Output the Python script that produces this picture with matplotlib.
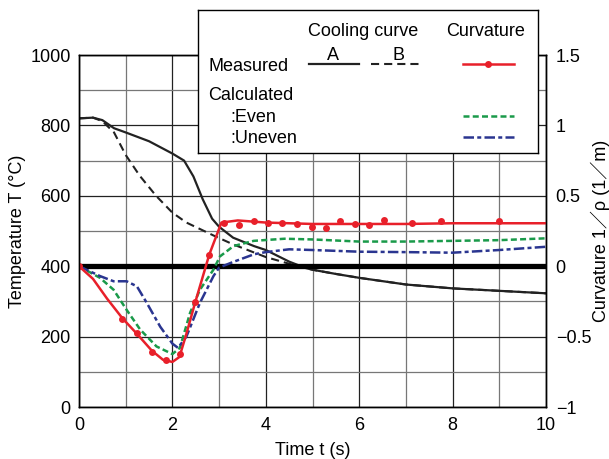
import numpy as np
import matplotlib.pyplot as plt
from matplotlib.lines import Line2D

plt.rcParams['font.family'] = ['Liberation Sans', 'Noto Sans CJK JP', 'DejaVu Sans']
plt.rcParams['font.size'] = 13

# cooling curves (temperature, C)
tA = [0, 0.3, 0.5, 0.75, 1.0, 1.5, 2.0, 2.25, 2.45, 2.65, 2.85, 3.0, 3.3, 3.75, 4.0, 4.5, 4.85, 5.0, 5.5, 6.0, 7.0, 8.0, 9.0, 10.0]
TA = [820, 822, 815, 792, 780, 755, 720, 700, 655, 590, 535, 512, 481, 457, 446, 413, 395, 390, 378, 367, 348, 337, 330, 323]
tB = [0, 0.3, 0.5, 0.75, 1.0, 1.3, 1.65, 2.0, 2.3, 2.9, 3.3, 4.0, 4.5, 4.85, 5.0, 5.5, 6.0, 7.0, 8.0, 9.0, 10.0]
TB = [820, 822, 812, 780, 716, 657, 600, 552, 524, 486, 462, 426, 407, 395, 390, 378, 367, 348, 337, 330, 323]

# measured curvature (1/m)
t_meas = [0, 0.93, 1.24, 1.56, 1.86, 2.17, 2.49, 2.79, 3.11, 3.42, 3.74, 4.04, 4.35, 4.66, 4.98, 5.29, 5.59, 5.90, 6.20, 6.53, 7.14, 7.75, 9.0]
c_meas = [0, -0.376, -0.476, -0.61, -0.667, -0.624, -0.255, 0.083, 0.305, 0.293, 0.32, 0.305, 0.31, 0.30, 0.28, 0.271, 0.323, 0.30, 0.29, 0.326, 0.309, 0.319, 0.319]
t_fit = [0, 0.3, 0.6, 0.93, 1.24, 1.56, 1.8, 2.0, 2.15, 2.3, 2.49, 2.79, 3.05, 3.4, 4.0, 5.0, 6.0, 7.0, 8.0, 9.0, 10.0]
c_fit = [0, -0.09, -0.23, -0.37, -0.48, -0.6, -0.665, -0.68, -0.645, -0.48, -0.255, 0.083, 0.31, 0.325, 0.31, 0.30, 0.30, 0.30, 0.305, 0.305, 0.305]

# calculated curvature
t_even = [0, 0.45, 0.74, 1.02, 1.31, 1.66, 2.0, 2.16, 2.38, 2.59, 2.88, 3.02, 3.31, 3.74, 4.4, 5.0, 6.0, 7.0, 8.0, 9.0, 10.0]
c_even = [0, -0.083, -0.167, -0.31, -0.45, -0.57, -0.624, -0.58, -0.33, -0.167, -0.024, 0.07, 0.143, 0.18, 0.195, 0.19, 0.175, 0.175, 0.18, 0.185, 0.198]
t_uneven = [0, 0.45, 0.74, 1.02, 1.24, 1.45, 1.74, 2.0, 2.12, 2.3, 2.59, 2.88, 3.0, 3.3, 3.75, 4.0, 4.5, 5.0, 6.0, 7.0, 8.0, 9.0, 10.0]
c_uneven = [0, -0.07, -0.107, -0.107, -0.143, -0.26, -0.43, -0.55, -0.58, -0.5, -0.26, -0.07, -0.01, 0.03, 0.085, 0.1, 0.12, 0.115, 0.103, 0.1, 0.096, 0.115, 0.138]

red = '#e8202a'
green = '#1a9a4a'
blue = '#2a3590'

fig = plt.figure(figsize=(6.09, 4.59), dpi=100)
ax = fig.add_axes([79/609, 52/459, 467/609, 352/459])
ax2 = ax.twinx()

ax.set_xlim(0, 10)
ax.set_ylim(0, 1000)
ax2.set_ylim(-1, 1.5)

ax.set_xticks(np.arange(0, 11, 2))
ax.set_xticks(np.arange(0, 11, 1), minor=True)
ax.set_yticks(np.arange(0, 1001, 200))
ax.set_yticks(np.arange(0, 1001, 100), minor=True)
ax.grid(which='major', color='#222222', lw=0.9)
ax.grid(which='minor', color='#777777', lw=0.9)
ax.tick_params(which='both', length=0, labelsize=13)
ax.tick_params(axis='x', pad=7)
ax.tick_params(axis='y', pad=6)

ax2.set_yticks([-1, -0.5, 0, 0.5, 1, 1.5])
ax2.set_yticklabels(['\u22121', '\u22120.5', '0', '0.5', '1', '1.5'])
ax2.tick_params(length=0, labelsize=13, pad=7)

for a in (ax, ax2):
    for s in a.spines.values():
        s.set_color('black')
        s.set_linewidth(1.0)

ax.plot(tA, TA, color='#222222', lw=1.6)
ax.plot(tB, TB, color='#222222', lw=1.5, dashes=(3.9, 2.4))

ax2.axhline(0, color='black', lw=3.8, zorder=2)
ax2.plot(t_even, c_even, color=green, lw=1.8, dashes=(2.4, 1.3))
ax2.plot(t_uneven, c_uneven, color=blue, lw=1.8, dashes=(4.2, 1.3, 1.6, 1.3))
ax2.plot(t_fit, c_fit, color=red, lw=1.8)
ax2.plot(t_meas, c_meas, 'o', color=red, ms=5, mec='none')

ax.set_xlabel('Time t (s)', fontsize=13, labelpad=6)
ax.set_ylabel('Temperature T (\u00b0C)', fontsize=13, labelpad=3)
ax2.set_ylabel('Curvature 1\uff0f\u03c1 (1\uff0fm)', fontsize=13)
ax2.yaxis.set_label_coords(1.095, 0.5)

# legend box drawn in its own pixel frame
lg = fig.add_axes([198/609, 1 - 153/459, 340/609, 143/459], zorder=5)
lg.set_xlim(0, 340)
lg.set_ylim(143, 0)
lg.set_xticks([])
lg.set_yticks([])
lg.set_facecolor('white')
for s in lg.spines.values():
    s.set_linewidth(1.0)

lg.text(165, 26, 'Cooling curve', ha='center', va='baseline')
lg.text(288, 26, 'Curvature', ha='center', va='baseline')
lg.text(135, 50, 'A', ha='center', va='baseline')
lg.text(200, 50, 'B', ha='center', va='baseline')
lg.text(10, 61, 'Measured', va='baseline')
lg.text(10, 90, 'Calculated', va='baseline')
lg.text(32, 112, ':Even', va='baseline')
lg.text(32, 133, ':Uneven', va='baseline')
lg.add_line(Line2D([111, 161], [54, 54], color='#222222', lw=1.6))
lg.add_line(Line2D([173, 225], [54, 54], color='#222222', lw=1.5, dashes=(3.9, 2.4)))
lg.add_line(Line2D([265, 316], [54, 54], color=red, lw=1.8))
lg.plot([290], [54], 'o', color=red, ms=5, mec='none')
lg.add_line(Line2D([265, 316], [106, 106], color=green, lw=1.8, dashes=(2.4, 1.3)))
lg.add_line(Line2D([265, 316], [127, 127], color=blue, lw=1.8, dashes=(4.2, 1.3, 1.6, 1.3)))

fig.savefig('out.png', dpi=100)
